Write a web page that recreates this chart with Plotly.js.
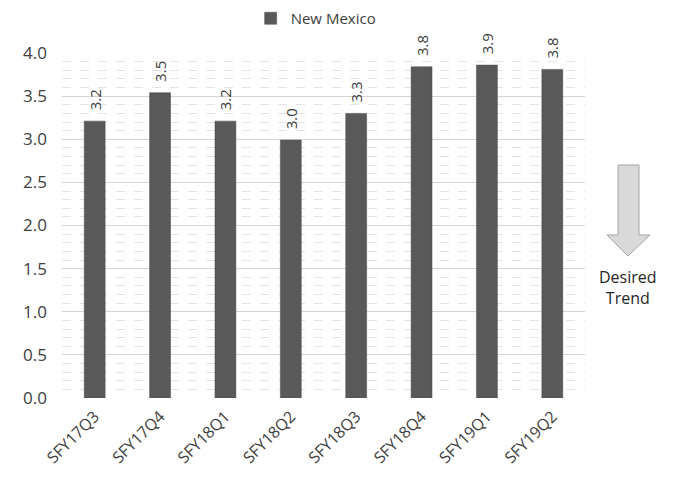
<!DOCTYPE html>
<html><head><meta charset="utf-8">
<script src="https://cdn.plot.ly/plotly-3.0.1.min.js"></script>
<style>html,body{margin:0;padding:0;background:#fff}#chart{width:680px;height:479px}</style>
</head><body><div id="chart"></div>
<script>
const categories = ["SFY17Q3","SFY17Q4","SFY18Q1","SFY18Q2","SFY18Q3","SFY18Q4","SFY19Q1","SFY19Q2"];
const values = [3.21, 3.54, 3.21, 2.99, 3.30, 3.84, 3.86, 3.81];
const seriesName = "New Mexico";
const yTicks = [0,0.5,1,1.5,2,2.5,3,3.5,4];
const yTickLabels = ["0.0","0.5","1.0","1.5","2.0","2.5","3.0","3.5","4.0"];

const L=62, R=585, T=53, B=398;
const W=R-L, H=B-T;
const px = x => (x-L)/W, py = y => (B-y)/H;
const arrowPts = [[618,165],[639,165],[639,235],[650,235],[628,256],[607,235],[618,235]];
const path = 'M ' + arrowPts.map(p=>px(p[0]).toFixed(4)+','+py(p[1]).toFixed(4)).join(' L ') + ' Z';
const FONT = 'Open Sans, sans-serif';

const trace = {
  type:'bar', x:categories, y:values, name:seriesName,
  marker:{color:'#595959', line:{color:'#4a4a4a', width:0.5}},
  texttemplate:'\u00a0\u00a0%{y:.1f}', textposition:'outside', textangle:-90,
  constraintext:'none',
  textfont:{family:FONT, size:15, color:'#404040'},
  cliponaxis:false, showlegend:true
};
const layout = {
  width:680, height:479,
  margin:{l:L, r:680-R, t:T, b:479-B, autoexpand:false},
  paper_bgcolor:'#fff', plot_bgcolor:'#fff',
  font:{family:FONT, color:'#404040'},
  bargap:0.68,
  showlegend:true,
  legend:{orientation:'h', x:0.485, xanchor:'center', y:1.10, yanchor:'middle', font:{size:15, color:'#404040'}, itemwidth:30},
  xaxis:{type:'category', tickangle:-45, tickfont:{size:16, color:'#404040'}, showgrid:false, zeroline:false, showline:false, ticks:'', automargin:false, ticklabelstandoff:5},
  yaxis:{range:[0,4], tickvals:yTicks, ticktext:yTickLabels, tickfont:{size:17, color:'#404040'}, automargin:false,
    ticklabelstandoff:14,
    showgrid:true, gridcolor:'#d4d4d4', gridwidth:1, zeroline:false, showline:false, ticks:'',
    minor:{dtick:0.1, showgrid:true, gridcolor:'#e3e3e3', griddash:'dash', gridwidth:1}},
  shapes:[{type:'path', xref:'paper', yref:'paper', path:path, fillcolor:'#d9d9d9', line:{color:'#a6a6a6', width:1}}],
  annotations:[{xref:'paper', yref:'paper', x:px(628), y:py(287), xanchor:'center', yanchor:'middle', text:'Desired<br>Trend', showarrow:false,
    font:{size:16, color:'#262626'}, align:'center'}]
};
Plotly.newPlot('chart',[trace],layout,{displayModeBar:false, staticPlot:true});
</script></body></html>
